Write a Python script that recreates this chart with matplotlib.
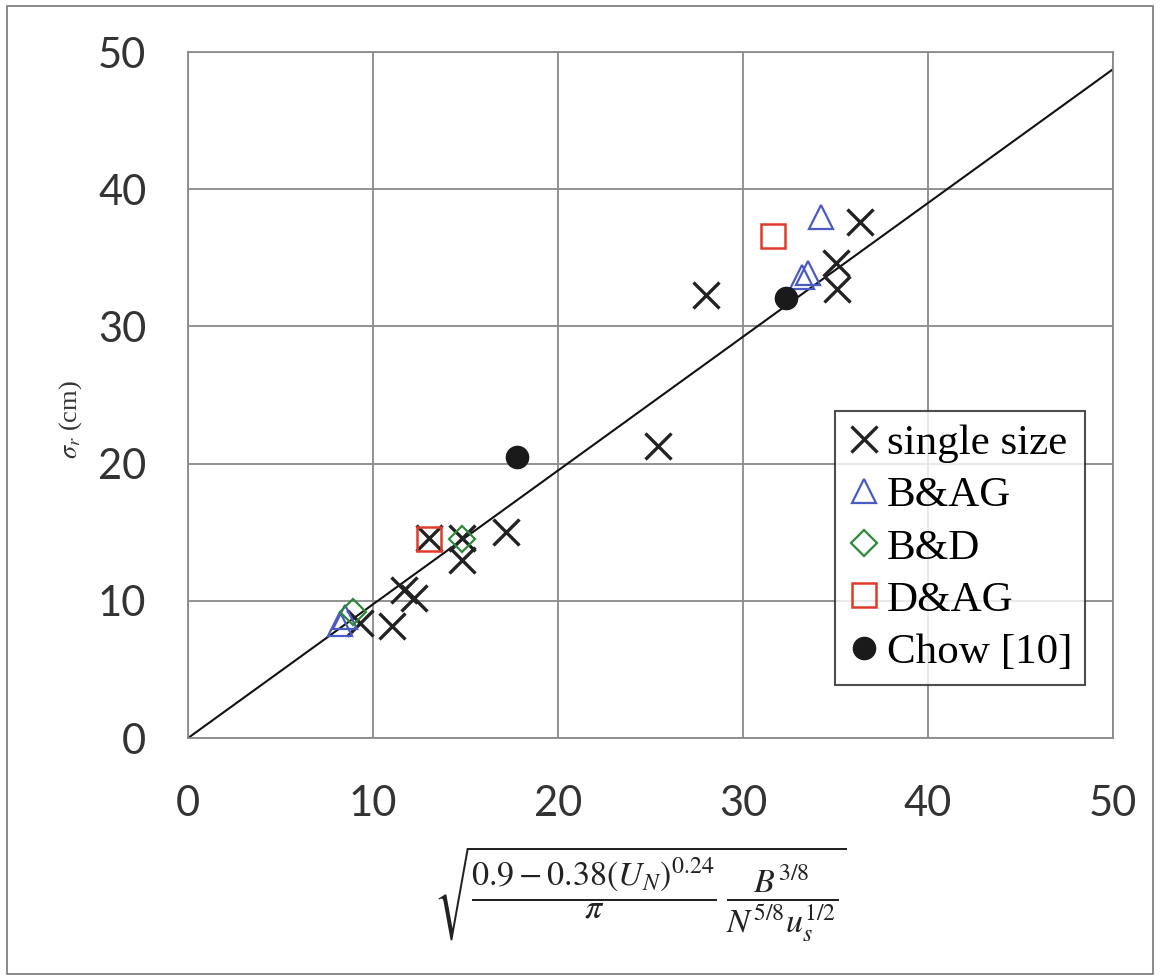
import matplotlib
matplotlib.use("Agg")
import matplotlib.pyplot as plt
from matplotlib.patches import Rectangle
import numpy as np

# Measured data (x: scaling parameter, y: sigma_r in cm)
single_x = [13.0, 14.8, 14.8, 17.2, 11.7, 12.2, 9.3, 11.0, 28.0, 25.4, 36.3, 35.0, 35.1]
single_y = [14.6, 14.6, 13.0, 15.0, 10.8, 10.2, 8.4, 8.2, 32.3, 21.3, 37.6, 34.6, 32.7]

bag_x = [34.2, 33.2, 33.5, 8.2, 8.5]
bag_y = [38.0, 33.6, 33.9, 8.3, 8.8]

bd_x = [8.9, 14.8]
bd_y = [9.2, 14.5]

dag_x = [13.0, 31.6]
dag_y = [14.5, 36.6]

chow_x = [17.8, 32.3]
chow_y = [20.5, 32.1]

fit_x = [0.0, 50.0]
fit_slope = 0.975

ticks = [0, 10, 20, 30, 40, 50]

plt.rcParams["mathtext.fontset"] = "stix"

fig = plt.figure(figsize=(11.6, 9.8), dpi=100)
ax = fig.add_axes([0.1621, 0.2469, 0.7974, 0.7])

ax.set_xlim(0, 50)
ax.set_ylim(0, 50)
ax.set_xticks(ticks)
ax.set_yticks(ticks)
ax.grid(True, color="#8a8a8a", linewidth=1.3)
ax.set_axisbelow(True)
for s in ax.spines.values():
    s.set_color("#8a8a8a")
    s.set_linewidth(1.3)
ax.tick_params(length=0, labelsize=30, colors="#333333")
ax.tick_params(axis="x", pad=34)
ax.tick_params(axis="y", pad=30)
for lab in ax.get_xticklabels() + ax.get_yticklabels():
    lab.set_fontfamily("Lato")

fx = np.array(fit_x)
ax.plot(fx, fit_slope * fx, color="#111111", linewidth=1.5, zorder=2)

ax.plot(single_x, single_y, linestyle="none", marker="x", markersize=19,
        markeredgewidth=2.4, color="#222222", label="single size", zorder=3)
ax.plot(bag_x, bag_y, linestyle="none", marker="^", markersize=17,
        markeredgewidth=1.6, markerfacecolor="none", markeredgecolor="#4a5bc4",
        label="B&AG", zorder=3)
ax.plot(bd_x, bd_y, linestyle="none", marker="D", markersize=13,
        markeredgewidth=1.6, markerfacecolor="none", markeredgecolor="#2e8a3a",
        label="B&D", zorder=3)
ax.plot(dag_x, dag_y, linestyle="none", marker="s", markersize=17,
        markeredgewidth=1.8, markerfacecolor="none", markeredgecolor="#e03a2a",
        label="D&AG", zorder=3)
ax.plot(chow_x, chow_y, linestyle="none", marker="o", markersize=16,
        color="#1a1a1a", label="Chow [10]", zorder=3)

leg = ax.legend(loc="lower right", bbox_to_anchor=(0.97, 0.078),
                prop={"family": "Liberation Serif", "size": 31},
                frameon=True, fancybox=False, handlelength=0.75,
                handletextpad=0.15, borderpad=0.3, labelspacing=0.3,
                markerscale=1.0, borderaxespad=0)
leg.get_frame().set_edgecolor("#222222")
leg.get_frame().set_linewidth(1.5)

ax.set_ylabel(r"$\sigma_r$ (cm)", fontfamily="Liberation Serif", fontsize=19,
              color="#333333")
ax.yaxis.set_label_coords(-0.113, 0.464)

fig.text(0.552, 0.088,
         r"$\sqrt{\dfrac{0.9-0.38(U_N)^{0.24}}{\pi}\ \dfrac{B^{3/8}}{N^{5/8}u_s^{1/2}}}$",
         ha="center", va="center", fontsize=24.5, color="#222222")

fig.patches.append(Rectangle((0.006, 0.006), 0.988, 0.988, transform=fig.transFigure,
                             fill=False, edgecolor="#777777", linewidth=1.2))

fig.savefig("out.png", dpi=100)
